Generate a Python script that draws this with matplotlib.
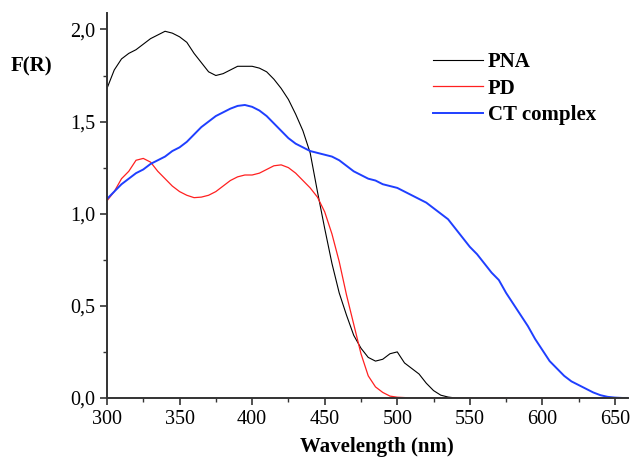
import numpy as np
import matplotlib
matplotlib.use('Agg')
import matplotlib.pyplot as plt
from matplotlib.ticker import MultipleLocator, FuncFormatter

plt.rcParams['font.family'] = ['Liberation Serif', 'DejaVu Serif']

# PNA (black)
wl_pna = [300, 305, 310, 315, 320, 325, 330, 335, 340, 345, 350, 355, 360, 365, 370,
          375, 380, 385, 390, 395, 400, 405, 410, 415, 420, 425, 430, 435, 440, 445,
          450, 455, 460, 465, 470, 475, 480, 485, 490, 495, 500, 505, 510, 515, 520,
          525, 530, 535, 540, 550, 600, 659]
fr_pna = [1.68, 1.78, 1.84, 1.87, 1.89, 1.92, 1.95, 1.97, 1.99, 1.98, 1.96, 1.93, 1.87, 1.82, 1.77,
          1.75, 1.76, 1.78, 1.80, 1.80, 1.80, 1.79, 1.77, 1.73, 1.68, 1.62, 1.54, 1.45, 1.33, 1.12,
          0.92, 0.73, 0.57, 0.45, 0.34, 0.27, 0.22, 0.20, 0.21, 0.24, 0.25, 0.19, 0.16, 0.13, 0.08,
          0.04, 0.015, 0.005, 0.0, 0.0, 0.0, 0.0]

# PD (red)
wl_pd = [300, 305, 310, 315, 320, 325, 330, 335, 340, 345, 350, 355, 360, 365, 370,
         375, 380, 385, 390, 395, 400, 405, 410, 415, 420, 425, 430, 435, 440, 445,
         450, 455, 460, 465, 470, 475, 480, 485, 490, 495, 500, 510, 659]
fr_pd = [1.07, 1.12, 1.19, 1.23, 1.29, 1.30, 1.28, 1.23, 1.19, 1.15, 1.12, 1.10, 1.087, 1.09, 1.10,
         1.12, 1.15, 1.18, 1.20, 1.21, 1.21, 1.22, 1.24, 1.26, 1.265, 1.25, 1.22, 1.18, 1.14, 1.09,
         1.01, 0.89, 0.74, 0.56, 0.40, 0.24, 0.12, 0.06, 0.03, 0.01, 0.004, 0.0, 0.0]

# CT complex (blue)
wl_ct = [300, 305, 310, 315, 320, 325, 330, 335, 340, 345, 350, 355, 360, 365, 370,
         375, 380, 385, 390, 395, 400, 405, 410, 415, 420, 425, 430, 435, 440, 445,
         450, 455, 460, 465, 470, 475, 480, 485, 490, 495, 500, 505, 510, 515, 520,
         525, 530, 535, 540, 545, 550, 555, 560, 565, 570, 575, 580, 585, 590, 595,
         600, 605, 610, 615, 620, 625, 630, 635, 640, 645, 650, 655, 659]
fr_ct = [1.08, 1.12, 1.16, 1.19, 1.22, 1.24, 1.27, 1.29, 1.31, 1.34, 1.36, 1.39, 1.43, 1.47, 1.50,
         1.53, 1.55, 1.57, 1.585, 1.59, 1.58, 1.56, 1.53, 1.49, 1.45, 1.41, 1.38, 1.36, 1.34, 1.33,
         1.32, 1.31, 1.29, 1.26, 1.23, 1.21, 1.19, 1.18, 1.16, 1.15, 1.14, 1.12, 1.10, 1.08, 1.06,
         1.03, 1.00, 0.97, 0.92, 0.87, 0.82, 0.78, 0.73, 0.68, 0.64, 0.57, 0.51, 0.45, 0.39, 0.32,
         0.26, 0.20, 0.16, 0.12, 0.09, 0.07, 0.05, 0.03, 0.015, 0.006, 0.002, 0.0, 0.0]

fig = plt.figure(figsize=(6.35, 4.59), dpi=100)
ax = fig.add_axes([0.1685, 0.133, 0.8205, 0.839])

ax.plot(wl_pna, fr_pna, color='black', lw=0.8, label='PNA')
ax.plot(wl_pd, fr_pd, color='#ff2020', lw=0.9, label='PD')
ax.plot(wl_ct, fr_ct, color='#1f3fff', lw=1.4, label='CT complex')

ax.set_xlim(300, 659)
ax.set_ylim(0, 2.09)
ax.xaxis.set_major_locator(MultipleLocator(50))
ax.xaxis.set_minor_locator(MultipleLocator(25))
ax.yaxis.set_major_locator(MultipleLocator(0.5))
ax.yaxis.set_minor_locator(MultipleLocator(0.25))
ax.yaxis.set_major_formatter(FuncFormatter(lambda v, p: ('%.1f' % v).replace('.', ',')))

for s in ['top', 'right']:
    ax.spines[s].set_visible(False)
for s in ['left', 'bottom']:
    ax.spines[s].set_linewidth(1.4)
    ax.spines[s].set_color('#333333')
ax.tick_params(which='major', direction='out', length=5, width=1.2, colors='#333333',
               labelsize=14.5, labelcolor='black')
ax.tick_params(which='minor', direction='out', length=3, width=1.0, colors='#333333')

fig.text(0.016, 0.856, 'F(R)', fontsize=15, fontweight='bold', va='center', ha='left')
fig.text(377 / 635, 1 - 447 / 459, 'Wavelength (nm)', fontsize=15, fontweight='bold',
         va='center', ha='center')

leg = ax.legend(loc='upper left', bbox_to_anchor=(425 / 635, 1 - 44 / 459),
                bbox_transform=fig.transFigure, frameon=False, handlelength=2.4,
                handletextpad=0.2, labelspacing=0.3, borderaxespad=0,
                prop={'weight': 'bold', 'size': 15})

fig.savefig('out.png', dpi=100)
